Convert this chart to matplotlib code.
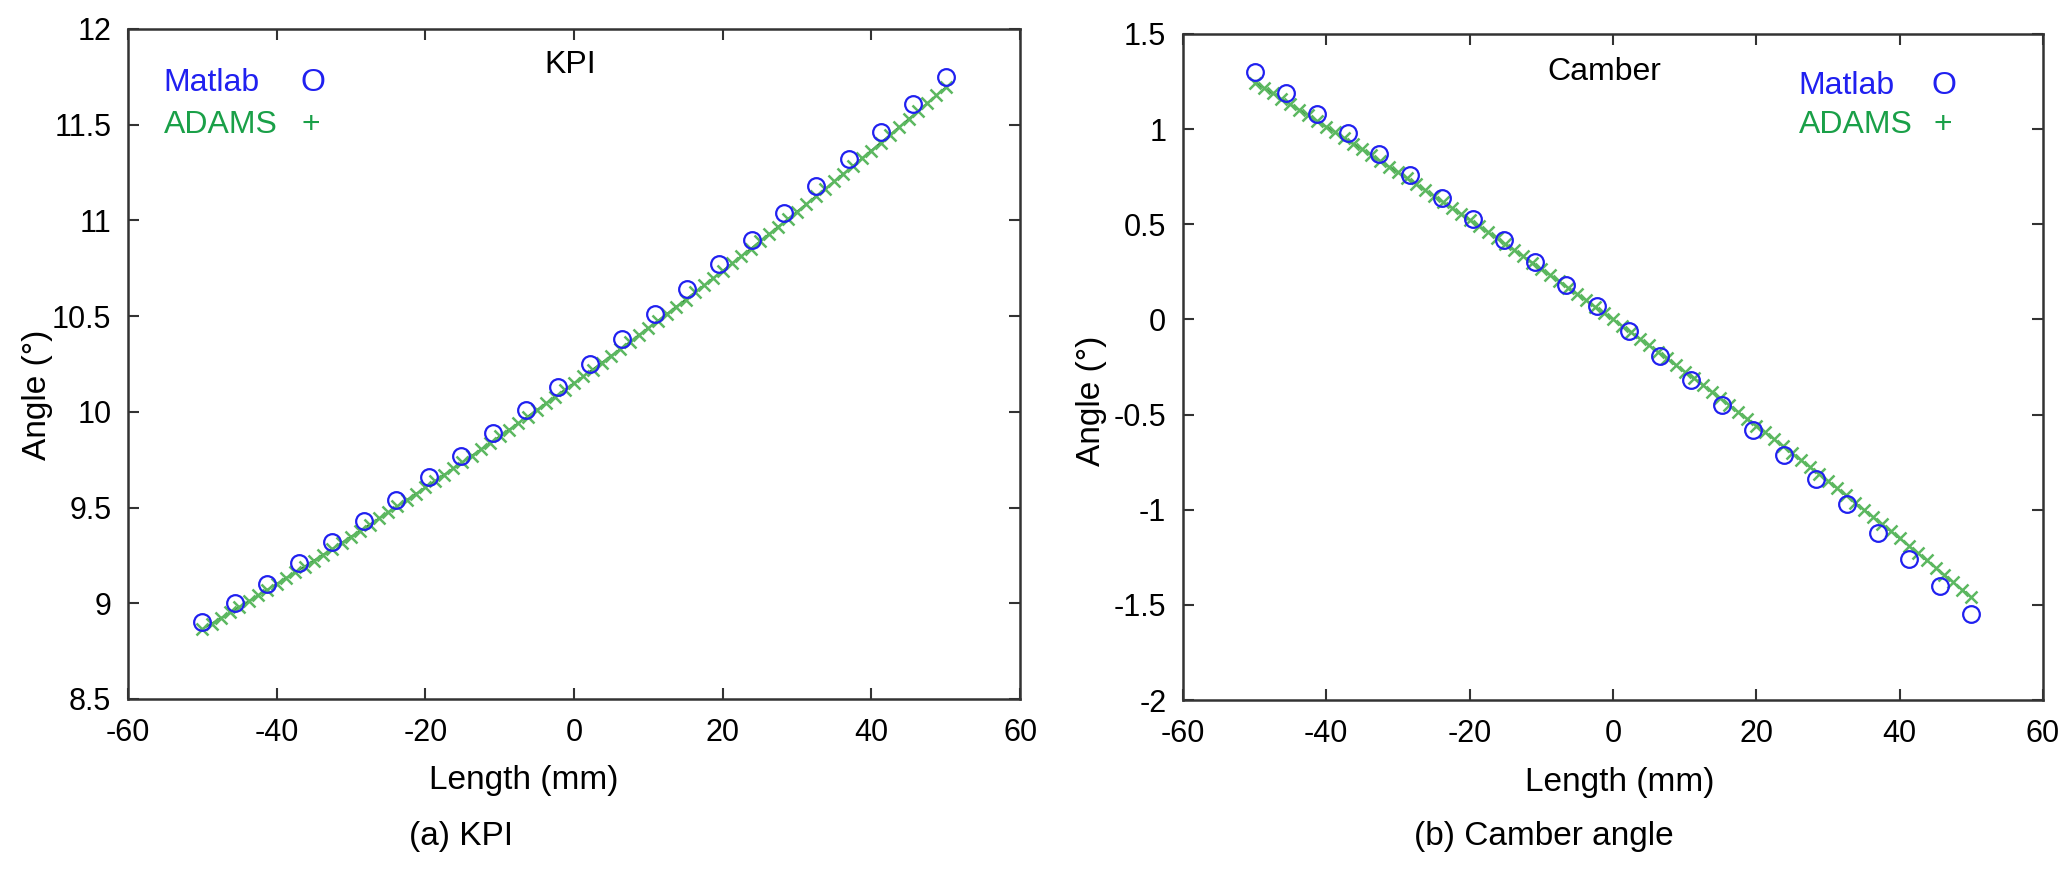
import matplotlib
matplotlib.use("Agg")
import matplotlib.pyplot as plt

# Matlab points (circles), same x positions for both panels
matlab_x = [-50.0, -45.65, -41.3, -36.96, -32.61, -28.26, -23.91, -19.57,
            -15.22, -10.87, -6.52, -2.17, 2.17, 6.52, 10.87, 15.22,
            19.57, 23.91, 28.26, 32.61, 36.96, 41.3, 45.65, 50.0]
kpi_matlab = [8.90, 9.00, 9.10, 9.21, 9.32, 9.43, 9.54, 9.66, 9.77, 9.89,
              10.01, 10.13, 10.25, 10.38, 10.51, 10.64, 10.77, 10.90,
              11.04, 11.18, 11.32, 11.46, 11.61, 11.75]
camber_matlab = [1.30, 1.19, 1.08, 0.98, 0.87, 0.76, 0.64, 0.53, 0.42, 0.30,
                 0.18, 0.07, -0.06, -0.19, -0.32, -0.45, -0.58, -0.71,
                 -0.84, -0.97, -1.12, -1.26, -1.40, -1.55]

# ADAMS curve (crosses + line)
adams_x = [-50, -48.75, -47.5, -46.25, -45, -43.75, -42.5, -41.25, -40,
           -38.75, -37.5, -36.25, -35, -33.75, -32.5, -31.25, -30, -28.75,
           -27.5, -26.25, -25, -23.75, -22.5, -21.25, -20, -18.75, -17.5,
           -16.25, -15, -13.75, -12.5, -11.25, -10, -8.75, -7.5, -6.25, -5,
           -3.75, -2.5, -1.25, 0, 1.25, 2.5, 3.75, 5, 6.25, 7.5, 8.75, 10,
           11.25, 12.5, 13.75, 15, 16.25, 17.5, 18.75, 20, 21.25, 22.5, 23.75,
           25, 26.25, 27.5, 28.75, 30, 31.25, 32.5, 33.75, 35, 36.25, 37.5,
           38.75, 40, 41.25, 42.5, 43.75, 45, 46.25, 47.5, 48.75, 50]
kpi_adams = [8.865, 8.894, 8.923, 8.952, 8.982, 9.011, 9.041, 9.071, 9.101,
             9.132, 9.162, 9.192, 9.223, 9.254, 9.285, 9.316, 9.348, 9.379,
             9.411, 9.443, 9.475, 9.507, 9.540, 9.572, 9.605, 9.638, 9.671,
             9.704, 9.737, 9.771, 9.804, 9.838, 9.872, 9.906, 9.941, 9.975,
             10.010, 10.045, 10.080, 10.115, 10.150, 10.185, 10.221, 10.257,
             10.293, 10.329, 10.365, 10.402, 10.438, 10.475, 10.512, 10.549,
             10.586, 10.624, 10.661, 10.699, 10.737, 10.775, 10.813, 10.851,
             10.890, 10.929, 10.968, 11.007, 11.046, 11.085, 11.125, 11.164,
             11.204, 11.244, 11.284, 11.325, 11.365, 11.406, 11.447, 11.488,
             11.529, 11.570, 11.612, 11.653, 11.695]
camber_adams = [1.245, 1.217, 1.188, 1.159, 1.130, 1.101, 1.072, 1.043, 1.013,
                0.984, 0.954, 0.924, 0.894, 0.864, 0.834, 0.803, 0.773, 0.742,
                0.711, 0.680, 0.649, 0.618, 0.587, 0.555, 0.524, 0.492, 0.460,
                0.428, 0.396, 0.364, 0.331, 0.299, 0.266, 0.233, 0.200, 0.167,
                0.134, 0.101, 0.067, 0.034, 0.000, -0.034, -0.068, -0.102,
                -0.136, -0.171, -0.205, -0.240, -0.275, -0.310, -0.345, -0.380,
                -0.415, -0.451, -0.487, -0.522, -0.558, -0.594, -0.630, -0.667,
                -0.703, -0.740, -0.776, -0.813, -0.850, -0.887, -0.925, -0.962,
                -0.999, -1.037, -1.075, -1.113, -1.151, -1.189, -1.227, -1.266,
                -1.304, -1.343, -1.382, -1.421, -1.460]

xticks = [-60, -40, -20, 0, 20, 40, 60]
kpi_yticks = [8.5, 9, 9.5, 10, 10.5, 11, 11.5, 12]
camber_yticks = [-2, -1.5, -1, -0.5, 0, 0.5, 1, 1.5]

plt.rcParams['font.family'] = ['Liberation Sans', 'DejaVu Sans']

BLUE = '#2020f0'
GREEN = '#1aa048'
LINE_GREEN = '#2b7a33'
MARK_GREEN = '#5cb860'

fig = plt.figure(figsize=(20.67, 8.83), dpi=100)
ax1 = fig.add_axes([0.0619, 0.2084, 0.4316, 0.7588])
ax2 = fig.add_axes([0.5723, 0.2072, 0.4161, 0.7543])


def style(ax, yticks, ylim):
    ax.set_xlim(-60, 60)
    ax.set_ylim(*ylim)
    ax.set_xticks(xticks)
    ax.set_yticks(yticks)
    ax.set_xticklabels([f'{t:g}' for t in xticks])
    ax.set_yticklabels([f'{t:g}' for t in yticks])
    ax.tick_params(direction='in', length=8, width=1.5, labelsize=22,
                   top=True, right=True, colors='#333333', labelcolor='black')
    ax.tick_params(axis='x', pad=14)
    ax.tick_params(axis='y', pad=12)
    for s in ax.spines.values():
        s.set_linewidth(1.8)
        s.set_color('#333333')
    ax.set_xlabel('Length (mm)', fontsize=24)
    ax.set_ylabel('Angle (°)', fontsize=24)


def draw(ax, my, ay):
    ax.plot(adams_x, ay, color=LINE_GREEN, lw=1.3, marker='x', ms=8,
            mec=MARK_GREEN, mew=1.8, zorder=2)
    ax.plot(matlab_x, my, ls='none', marker='o', ms=12, mfc='none',
            mec=BLUE, mew=1.6, zorder=3)


draw(ax1, kpi_matlab, kpi_adams)
style(ax1, kpi_yticks, (8.5, 12))
ax1.xaxis.set_label_coords(0.444, -0.098)
ax1.yaxis.set_label_coords(-0.084, 0.454)
ax1.text(0.496, 0.946, 'KPI', transform=ax1.transAxes, fontsize=23,
         ha='center', va='center')
ax1.text(0.040, 0.919, 'Matlab', transform=ax1.transAxes, fontsize=23,
         color=BLUE, va='center')
ax1.text(0.207, 0.919, 'O', transform=ax1.transAxes, fontsize=23,
         color=BLUE, va='center', ha='center')
ax1.text(0.040, 0.857, 'ADAMS', transform=ax1.transAxes, fontsize=23,
         color=GREEN, va='center')
ax1.text(0.205, 0.857, '+', transform=ax1.transAxes, fontsize=23,
         color=GREEN, va='center', ha='center')

draw(ax2, camber_matlab, camber_adams)
style(ax2, camber_yticks, (-2, 1.5))
ax2.xaxis.set_label_coords(0.508, -0.1)
ax2.yaxis.set_label_coords(-0.088, 0.45)
ax2.text(0.49, 0.943, 'Camber', transform=ax2.transAxes, fontsize=23,
         ha='center', va='center')
ax2.text(0.716, 0.922, 'Matlab', transform=ax2.transAxes, fontsize=23,
         color=BLUE, va='center')
ax2.text(0.885, 0.922, 'O', transform=ax2.transAxes, fontsize=23,
         color=BLUE, va='center', ha='center')
ax2.text(0.716, 0.863, 'ADAMS', transform=ax2.transAxes, fontsize=23,
         color=GREEN, va='center')
ax2.text(0.883, 0.863, '+', transform=ax2.transAxes, fontsize=23,
         color=GREEN, va='center', ha='center')

fig.text(0.223, 0.053, '(a) KPI', fontsize=24, ha='center', va='center')
fig.text(0.747, 0.053, '(b) Camber angle', fontsize=24,
         ha='center', va='center')

fig.savefig('out.png', dpi=100)
